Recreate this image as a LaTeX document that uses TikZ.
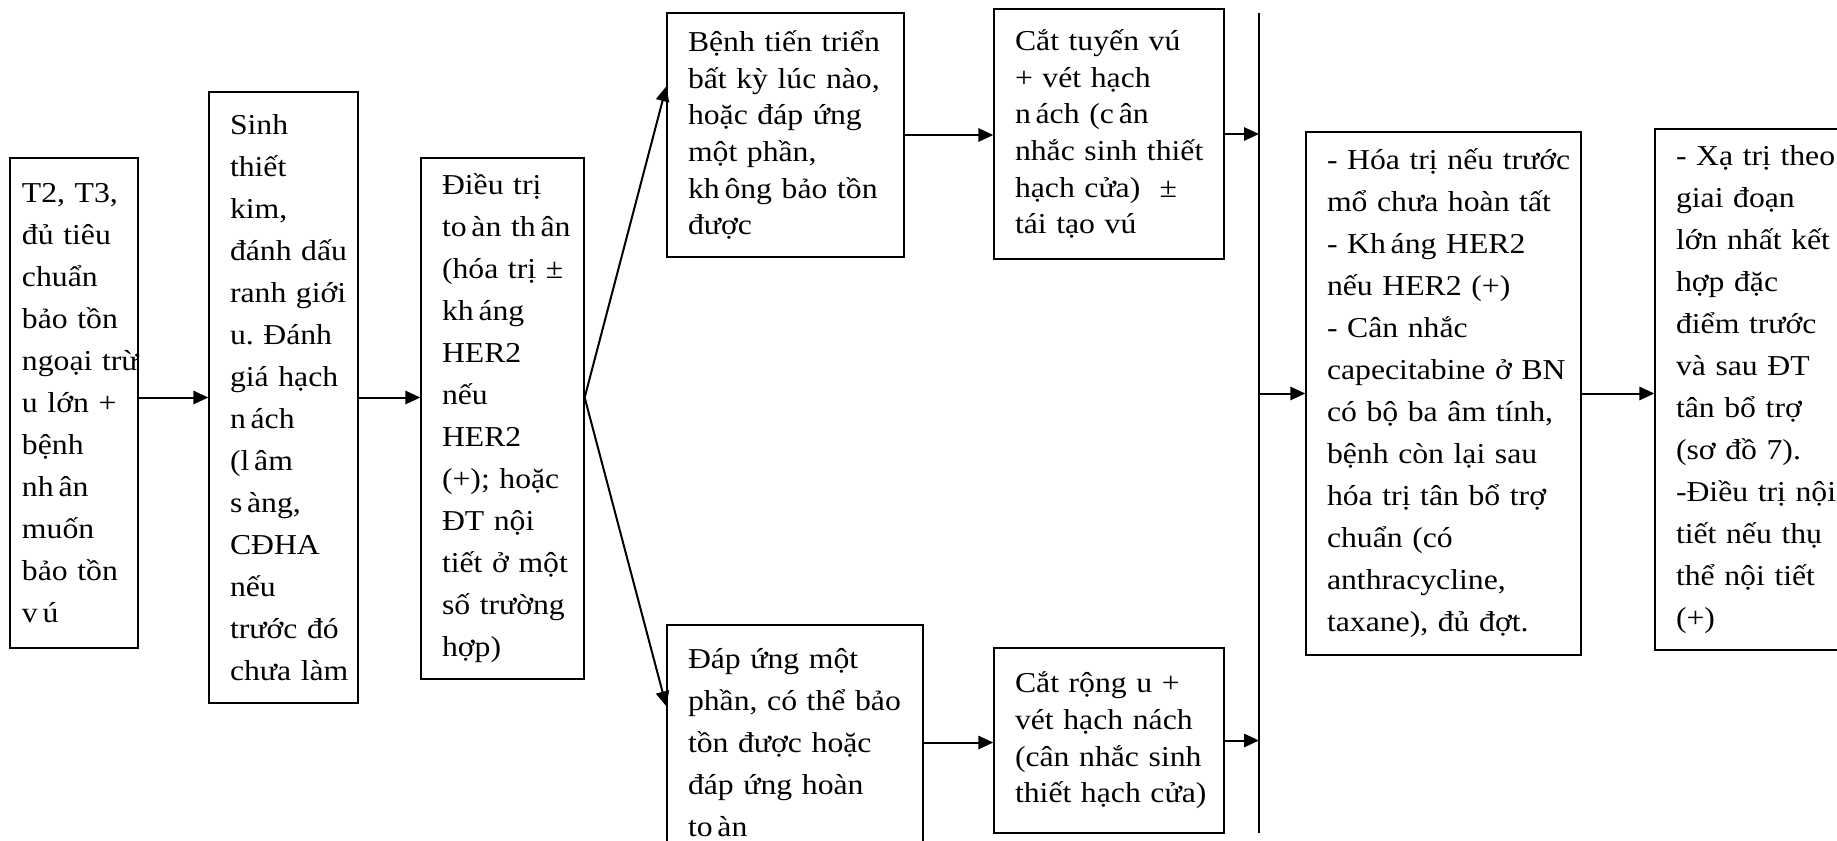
\documentclass[tikz,border=0pt]{standalone}
\usepackage{fontspec}
\setmainfont{Liberation Serif}[FakeStretch=1.1]
\usetikzlibrary{arrows.meta}
\exhyphenpenalty=10000

\begin{document}
\begin{tikzpicture}[>={Triangle[length=4.5pt, width=4pt]}, line width=.4pt,
  box/.style={rectangle, draw=black, align=left, inner xsep=6.3pt, inner ysep=0pt,
              font=\fontsize{8.65pt}{12.6pt}\selectfont},
  tight/.style={font=\fontsize{8.65pt}{11pt}\selectfont},
  flow/.style={->, line width=.6pt}]

  \useasboundingbox (0,0) rectangle (551.1pt,-252pt);

  \node[box, inner xsep=3.6pt, text width=31.2pt, minimum height=147pt] at (22.2pt,-120.9pt) (a)
  {T2,~T3,\\ đủ~tiêu\\ chuẩn\\ bảo~tồn\\ ngoại~trừ\\ u~lớn~+\\ bệnh\\ nh\,ân\\ muốn\\ bảo~tồn\\ v\,ú};
  \node[box, text width=32.1pt, minimum height=183.3pt, right of = a, node distance = 62.85pt, yshift = 1.65pt] (b)
  {Sinh\\ thiết\\ kim,\\ đánh~dấu\\ ranh~giới\\ u.~Đánh\\ giá~hạch\\ n\,ách\\ (l\,âm\\ s\,àng,\\ CĐHA\\ nếu\\ trước~đó\\ chưa~làm};
  \node[box, text width=36.3pt, minimum height=156.3pt, right of = b, node distance = 65.7pt, yshift = -6.3pt] (c)
  {Điều~trị\\ to\,àn~th\,ân\\ (hóa~trị~±\\ kh\,áng\\ HER2\\ nếu\\ HER2\\ (+);~hoặc\\ ĐT~nội\\ tiết~ở~một\\ số~trường\\ hợp)};

  \node[box, tight, text width=58.5pt, minimum height=73.2pt, right of = c, node distance = 84.9pt, yshift = 85.05pt] (d)
  {Bệnh~tiến~triển\\ bất~kỳ~lúc~nào,\\ hoặc~đáp~ứng\\ một~phần,\\ kh\,ông~bảo~tồn\\ được};
  \node[box, text width=64.2pt, minimum height=70.5pt, below of = d, node distance = 182.25pt, xshift = 2.85pt] (f)
  {Đáp~ứng~một\\ phần,~có~thể~bảo\\ tồn~được~hoặc\\ đáp~ứng~hoàn\\ to\,àn};

  \node[box, tight, text width=56.4pt, minimum height=75pt, right of = d, node distance = 97.05pt, yshift = .3pt] (e)
  {Cắt~tuyến~vú\\ +~vét~hạch\\ n\,ách~(c\,ân\\ nhắc~sinh~thiết\\ hạch~cửa)~~±\\ tái~tạo~vú};
  \node[box, tight, text width=56.4pt, minimum height=55.5pt, right of = f, node distance = 94.2pt, yshift = .6pt] (g)
  {Cắt~rộng~u~+\\ vét~hạch~nách\\ (cân~nhắc~sinh\\ thiết~hạch~cửa)};

  \coordinate (bartop) at (377.7pt,-3.9pt);
  \coordinate (barbot) at (377.7pt,-249.9pt);

  \node[box, text width=69.9pt, minimum height=156.9pt, right of = c, node distance = 282.3pt, yshift = 7.5pt] (h)
  {-~Hóa~trị~nếu~trước\\ mổ~chưa~hoàn~tất\\ -~Kh\,áng~HER2\\ nếu~HER2~(+)\\ -~Cân~nhắc\\ capecitabine~ở~BN\\ có~bộ~ba~âm~tính,\\ bệnh~còn~lại~sau\\ hóa~trị~tân~bổ~trợ\\ chuẩn~(có\\ anthracycline,\\ taxane),~đủ~đợt.};
  \node[box, text width=45.9pt, minimum height=156.3pt, right of = h, node distance = 92.7pt, yshift = 1.2pt] (i)
  {-~Xạ~trị~theo\\ giai~đoạn\\ lớn~nhất~kết\\ hợp~đặc\\ điểm~trước\\ và~sau~ĐT\\ tân~bổ~trợ\\ (sơ~đồ~7).\\ -Điều~trị~nội\\ tiết~nếu~thụ\\ thể~nội~tiết\\ (+)};

  \draw (bartop) -- (barbot);

  \coordinate (fork) at (c.east |- b.east);

  \draw[flow] (a.east |- b.west) -- (b.west);
  \draw[flow] (b.east) -- (b.east -| c.west);
  \draw[flow] (fork) -- ([yshift=-22.2pt]d.north west);
  \draw[flow] (fork) -- ([yshift=-24.6pt]f.north west);
  \draw[flow] (d.east) -- (d.east -| e.west);
  \draw[flow] (f.east) -- (f.east -| g.west);
  \draw[flow] (e.east) -- (e.east -| bartop);
  \draw[flow] (g.east) -- (g.east -| barbot);
  \draw[flow] (h.west -| bartop) -- (h.west);
  \draw[flow] (h.east) -- (h.east -| i.west);

\end{tikzpicture}
\end{document}
